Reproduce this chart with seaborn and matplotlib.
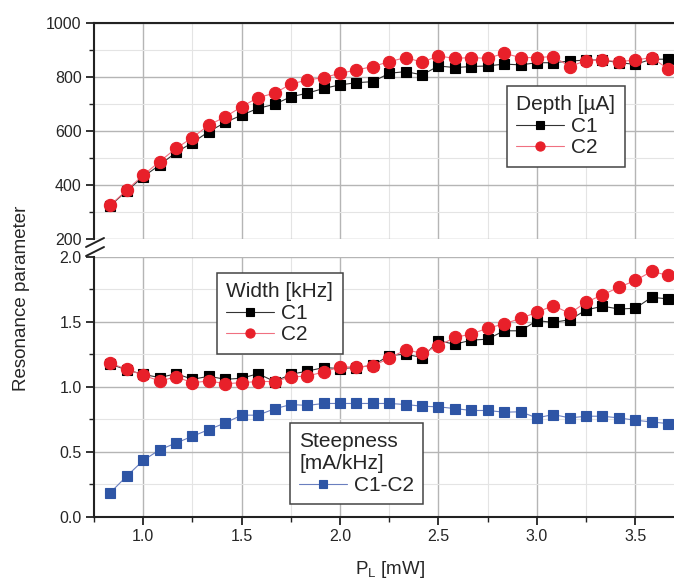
import numpy as np
import pandas as pd
import matplotlib
matplotlib.use('Agg')
import matplotlib.pyplot as plt
from matplotlib.ticker import MultipleLocator, FormatStrFormatter
from matplotlib.lines import Line2D
import seaborn as sns

sns.set_style('ticks')
plt.rcParams['font.family'] = ['Liberation Sans', 'DejaVu Sans']
plt.rcParams['mathtext.default'] = 'regular'

# laser power P_L [mW]
power = [0.833, 0.917, 1.000, 1.083, 1.167, 1.250, 1.333, 1.417, 1.500, 1.583,
         1.667, 1.750, 1.833, 1.917, 2.000, 2.083, 2.167, 2.250, 2.333, 2.417,
         2.500, 2.583, 2.667, 2.750, 2.833, 2.917, 3.000, 3.083, 3.167, 3.250,
         3.333, 3.417, 3.500, 3.583, 3.667]

# depth [uA]
depth_c1 = [325, 380, 432, 475, 522, 558, 599, 633, 660, 685,
            700, 728, 741, 759, 772, 780, 784, 815, 821, 809,
            842, 836, 840, 842, 849, 846, 854, 854, 860, 864,
            864, 854, 848, 867, 867]
depth_c2 = [327, 383, 438, 488, 537, 577, 623, 654, 691, 725,
            741, 775, 790, 799, 815, 827, 840, 858, 873, 856,
            879, 870, 873, 870, 889, 873, 873, 877, 840, 862,
            864, 858, 864, 873, 831]

# width [kHz]
width_c1 = [1.173, 1.129, 1.095, 1.070, 1.100, 1.057, 1.080, 1.057, 1.065, 1.100,
            1.040, 1.095, 1.120, 1.147, 1.140, 1.147, 1.165, 1.240, 1.250, 1.224,
            1.353, 1.327, 1.358, 1.366, 1.430, 1.430, 1.508, 1.495, 1.515, 1.590,
            1.619, 1.598, 1.603, 1.688, 1.675]
width_c2 = [1.180, 1.134, 1.088, 1.044, 1.075, 1.031, 1.044, 1.023, 1.031, 1.040,
            1.040, 1.075, 1.082, 1.113, 1.152, 1.152, 1.160, 1.220, 1.283, 1.258,
            1.314, 1.379, 1.405, 1.451, 1.482, 1.526, 1.572, 1.624, 1.564, 1.650,
            1.706, 1.765, 1.817, 1.887, 1.856]

# steepness [mA/kHz]
steep = [0.186, 0.314, 0.433, 0.515, 0.567, 0.619, 0.670, 0.722, 0.781, 0.781,
         0.830, 0.863, 0.856, 0.871, 0.871, 0.871, 0.871, 0.871, 0.863, 0.850,
         0.845, 0.832, 0.817, 0.817, 0.804, 0.807, 0.760, 0.786, 0.760, 0.773,
         0.773, 0.760, 0.742, 0.729, 0.716]

RED = '#e8202a'
BLUE = '#2e55a5'
SPINE = '#222222'

W, H = 674, 588
fig = plt.figure(figsize=(W / 100, H / 100), dpi=100)
left = 94.1 / W
width = 590.4 / W
ax_top = fig.add_axes([left, (H - 239.3) / H, width, 216.0 / H])
ax_bot = fig.add_axes([left, (H - 516.7) / H, width, 260.0 / H], sharex=ax_top)

sq = dict(marker='s', markersize=7.5, lw=0.8, markeredgewidth=0.8)
ci = dict(marker='o', markersize=8.8, lw=0.8, markeredgewidth=0.8)

sns.lineplot(x=power, y=depth_c1, ax=ax_top, color='#333333', markerfacecolor='black',
             markeredgecolor='black', label='C1', **sq)
sns.lineplot(x=power, y=depth_c2, ax=ax_top, color='#f07080', markerfacecolor=RED,
             markeredgecolor=RED, label='C2', **ci)

sns.lineplot(x=power, y=width_c1, ax=ax_bot, color='#333333', markerfacecolor='black',
             markeredgecolor='black', label='C1', **sq)
sns.lineplot(x=power, y=width_c2, ax=ax_bot, color='#f07080', markerfacecolor=RED,
             markeredgecolor=RED, label='C2', **ci)
sns.lineplot(x=power, y=steep, ax=ax_bot, color='#6a7fbf', markerfacecolor=BLUE,
             markeredgecolor=BLUE, label='C1-C2', **sq)

ax_top.set_xlim(0.75, 3.75)
ax_top.set_ylim(200, 1000)
ax_bot.set_ylim(0, 2.0)

for ax in (ax_top, ax_bot):
    ax.xaxis.set_major_locator(MultipleLocator(0.5))
    ax.xaxis.set_minor_locator(MultipleLocator(0.25))
    ax.grid(which='major', color='#b5b5b5', lw=1.0, zorder=0)
    ax.grid(which='minor', color='#e4e4e4', lw=0.8, zorder=0)
    ax.set_axisbelow(True)
    ax.tick_params(which='major', direction='out', length=6, width=1.3,
                   color=SPINE, labelsize=11.5, pad=3)
    ax.tick_params(which='minor', direction='out', length=3.5, width=1.0, color=SPINE)
    for s in ax.spines.values():
        s.set_linewidth(1.5)
        s.set_color(SPINE)
    ax.set_xlabel('')
    ax.set_ylabel('')
    if ax.get_legend() is not None:
        ax.get_legend().remove()

ax_top.yaxis.set_major_locator(MultipleLocator(200))
ax_top.yaxis.set_minor_locator(MultipleLocator(100))
ax_top.spines['bottom'].set_visible(False)
ax_top.spines['right'].set_visible(False)
ax_top.tick_params(axis='x', which='both', bottom=False, labelbottom=False)

ax_bot.yaxis.set_major_locator(MultipleLocator(0.5))
ax_bot.yaxis.set_minor_locator(MultipleLocator(0.25))
ax_bot.yaxis.set_major_formatter(FormatStrFormatter('%.1f'))
ax_bot.xaxis.set_major_formatter(FormatStrFormatter('%.1f'))
ax_bot.spines['top'].set_visible(False)
ax_bot.spines['right'].set_visible(False)

leg_kw = dict(loc='upper left', bbox_transform=fig.transFigure, fontsize=15,
              title_fontsize=15, alignment='left', frameon=True, fancybox=False,
              framealpha=1, edgecolor='#444444', borderaxespad=0, borderpad=0.45,
              labelspacing=0.12, handlelength=2.3, handletextpad=0.3,
              markerscale=0.75)


def style(leg):
    leg.get_frame().set_linewidth(1.1)
    leg.set_zorder(10)
    return leg


h, l = ax_top.get_legend_handles_labels()
style(ax_top.legend(h, l, title='Depth [µA]',
                    bbox_to_anchor=(507 / W, 1 - 86 / H), **leg_kw))

h, l = ax_bot.get_legend_handles_labels()
leg1 = style(ax_bot.legend(h[:2], l[:2], title='Width [kHz]',
                           bbox_to_anchor=(217 / W, 1 - 273 / H), **leg_kw))
ax_bot.add_artist(leg1)
style(ax_bot.legend(h[2:], l[2:], title='Steepness\n[mA/kHz]',
                    bbox_to_anchor=(290 / W, 1 - 423 / H), **leg_kw))

# axis break marks
for y0 in (247, 256):
    fig.add_artist(Line2D([86 / W, 104 / W], [1 - y0 / H, 1 - (y0 - 9) / H],
                          transform=fig.transFigure, color=SPINE, lw=1.4))

fig.text(22 / W, 1 - 298 / H, 'Resonance parameter', rotation=90,
         ha='center', va='center', fontsize=13.5)
fig.text(390 / W, 1 - 570 / H, 'P$_L$ [mW]', ha='center', va='center', fontsize=13.5)

fig.savefig('out.png', dpi=100)
